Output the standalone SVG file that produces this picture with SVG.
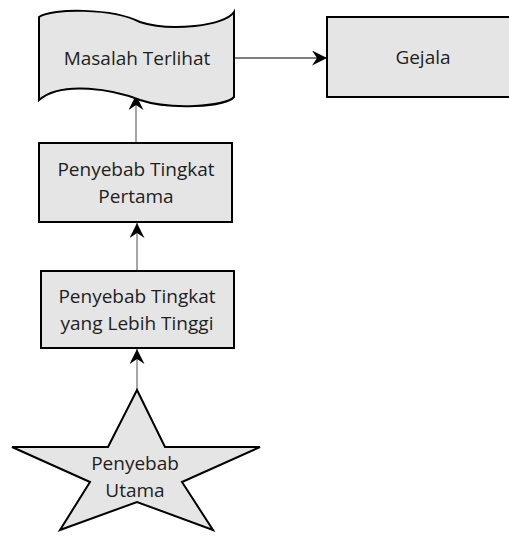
<svg xmlns="http://www.w3.org/2000/svg" width="509" height="541" viewBox="0 0 509 541">
  <style>
    .shape { fill: #e5e5e5; stroke: #000; stroke-width: 2; }
    .label { font-family: "Open Sans", "Noto Sans", sans-serif; font-size: 19px; fill: #1e1e1e; text-anchor: middle; }
    .link { fill: none; stroke: #6a6a6a; stroke-width: 1.2; }
    .link.dark { stroke: #000; }
  </style>
  <defs>
    <marker id="arrow" markerUnits="userSpaceOnUse" markerWidth="16" markerHeight="16" refX="15" refY="7.5" orient="auto">
      <path d="M0,0 L15,7.5 L0,15 L5,7.5 Z" fill="#000"/>
    </marker>
  </defs>

  <rect width="509" height="541" fill="#fff"/>

  <!-- connectors -->
  <g id="connectors">
    <line class="link dark" x1="234" y1="58" x2="327" y2="58" marker-end="url(#arrow)"/>
    <line class="link" x1="136" y1="143" x2="136" y2="95" marker-end="url(#arrow)"/>
    <line class="link" x1="137" y1="271" x2="137" y2="223" marker-end="url(#arrow)"/>
    <line class="link" x1="137" y1="390" x2="137" y2="349" marker-end="url(#arrow)"/>
  </g>

  <!-- tape-shaped node -->
  <g id="masalah-terlihat">
    <path class="shape" stroke-width="2.5" d="M39,17 C52,8 112,8 140,22 C170,32 225,26 234,12 L234,97 C225,107 170,110 140,100 C115,90 62,80 39,100 Z"/>
    <text class="label" x="137" y="65">Masalah Terlihat</text>
  </g>

  <g id="gejala">
    <rect class="shape" x="327" y="17" width="193" height="80"/>
    <text class="label" x="423" y="64">Gejala</text>
  </g>

  <g id="penyebab-tingkat-pertama">
    <rect class="shape" x="39" y="143" width="193" height="79"/>
    <text class="label" x="136" y="176">Penyebab Tingkat</text>
    <text class="label" x="136" y="203">Pertama</text>
  </g>

  <g id="penyebab-tingkat-tinggi">
    <rect class="shape" x="41" y="271" width="193" height="77"/>
    <text class="label" x="137" y="303">Penyebab Tingkat</text>
    <text class="label" x="137" y="330">yang Lebih Tinggi</text>
  </g>

  <g id="penyebab-utama">
    <polygon class="shape" points="137,390 165,447 260,447 182,482 213,530 137,502 60,530 90,482 12,447 108,447"/>
    <text class="label" x="135" y="470">Penyebab</text>
    <text class="label" x="135" y="497">Utama</text>
  </g>
</svg>
